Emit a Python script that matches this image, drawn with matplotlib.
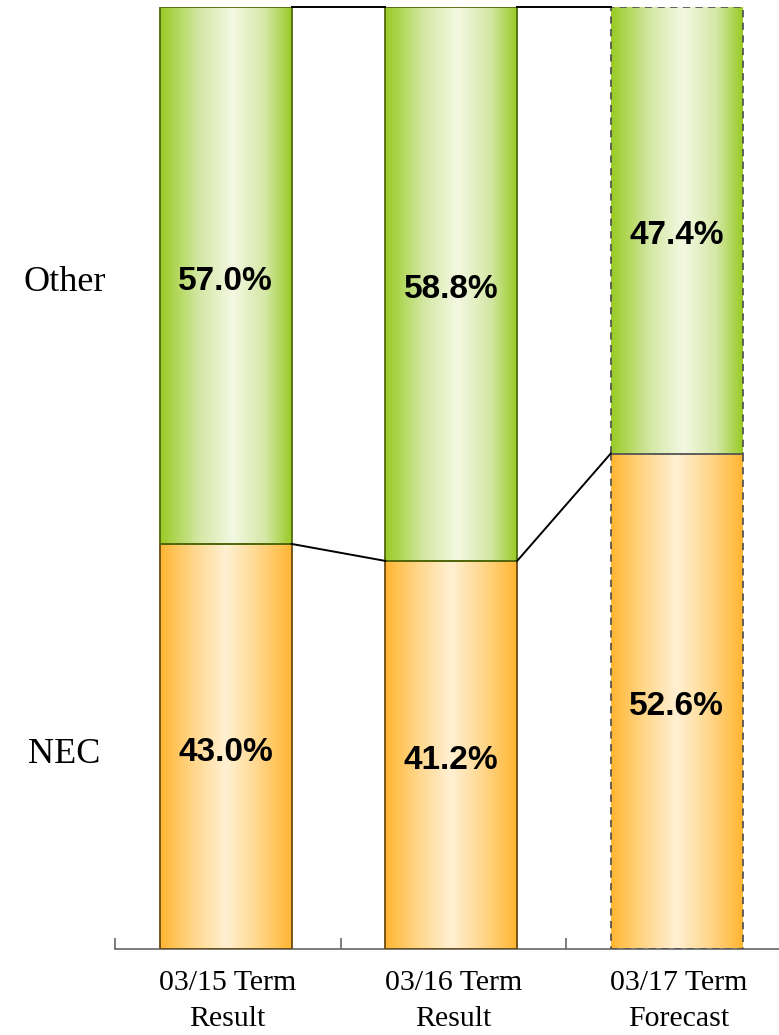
import matplotlib.pyplot as plt
import numpy as np
from matplotlib.colors import LinearSegmentedColormap

# -------------------- Data --------------------
categories = ["03/15 Term\nResult", "03/16 Term\nResult", "03/17 Term\nForecast"]
nec_share = [43.0, 41.2, 52.6]
other_share = [57.0, 58.8, 47.4]
series_names = ["NEC", "Other"]
forecast = [False, False, True]

# -------------------- Style --------------------
green_cmap = LinearSegmentedColormap.from_list(
    "g", [(0.0, "#99CB24"), (0.3, "#D4E8A6"), (0.55, "#F4F8E2"),
          (0.8, "#D4E8A6"), (1.0, "#99CB24")])
orange_cmap = LinearSegmentedColormap.from_list(
    "o", [(0.0, "#FFB531"), (0.25, "#FFD68A"), (0.5, "#FFF0D3"),
          (0.75, "#FFD68A"), (1.0, "#FFB531")])

W, H = 779, 1035
fig = plt.figure(figsize=(W / 100, H / 100), dpi=100)
ax = fig.add_axes([115 / W, 1 - 949 / H, 1 - 115 / W, (949 - 7) / H])

x = np.arange(len(categories)) - 0.009
bar_w = 0.585

grad = np.linspace(0, 1, 256).reshape(1, -1)


def gradient_bar(xc, bottom, height, cmap, edge, dashed):
    bars = ax.bar(xc, height, bottom=bottom, width=bar_w, color="none",
                  edgecolor="none", zorder=2)
    patch = bars[0]
    img = ax.imshow(grad, cmap=cmap, aspect="auto", zorder=2,
                    extent=(xc - bar_w / 2, xc + bar_w / 2, bottom, bottom + height))
    img.set_clip_path(patch)
    ax.bar(xc, height, bottom=bottom, width=bar_w, color="none",
           edgecolor=edge, linewidth=1.3,
           linestyle=(0, (4, 3)) if dashed else "-", zorder=3)


for i in range(len(categories)):
    if forecast[i]:
        ge, oe = "#555555", "#555555"
    else:
        ge, oe = "#4F6A0C", "#6A4A10"
    gradient_bar(x[i], 0, nec_share[i], orange_cmap, oe, forecast[i])
    gradient_bar(x[i], nec_share[i], other_share[i], green_cmap, ge, forecast[i])

    ax.text(x[i], nec_share[i] / 2 - 0.6, f"{nec_share[i]:.1f}%",
            ha="center", va="center", fontsize=24, fontweight="bold",
            family="Liberation Sans", zorder=4)
    ax.text(x[i], nec_share[i] + other_share[i] / 2 - 0.6, f"{other_share[i]:.1f}%",
            ha="center", va="center", fontsize=24, fontweight="bold",
            family="Liberation Sans", zorder=4)

# connecting lines between bars
for i in range(len(categories) - 1):
    ax.plot([x[i] + bar_w / 2, x[i + 1] - bar_w / 2],
            [nec_share[i], nec_share[i + 1]], color="black", lw=1.4, zorder=3)
    ax.plot([x[i] + bar_w / 2, x[i + 1] - bar_w / 2],
            [100, 100], color="black", lw=1.4, zorder=3, clip_on=False)

# series labels on the left
ax.text(-0.725, other_share[0] / 2 + nec_share[0] - 0.7, series_names[1],
        ha="center", va="center", fontsize=26, family="Liberation Serif",
        clip_on=False)
ax.text(-0.725, nec_share[0] / 2 - 0.9, series_names[0],
        ha="center", va="center", fontsize=26, family="Liberation Serif",
        clip_on=False)

ax.set_xlim(-0.5, -0.5 + (W - 115) / 225.5)
ax.set_ylim(0, 100)

for s in ["top", "right", "left"]:
    ax.spines[s].set_visible(False)
ax.spines["bottom"].set_color("#666666")
ax.spines["bottom"].set_linewidth(1.2)
ax.set_yticks([])

ax.set_xticks(np.arange(len(categories)))
ax.set_xticklabels(categories, family="Liberation Serif", fontsize=21.5,
                   linespacing=1.5)
ax.set_xticks([-0.5, 0.5, 1.5], minor=True)
ax.tick_params(axis="x", which="major", length=0, pad=15)
ax.tick_params(axis="x", which="minor", direction="in", length=8,
               color="#666666", width=1.2)

fig.savefig("out.png", dpi=100)
plt.close(fig)
